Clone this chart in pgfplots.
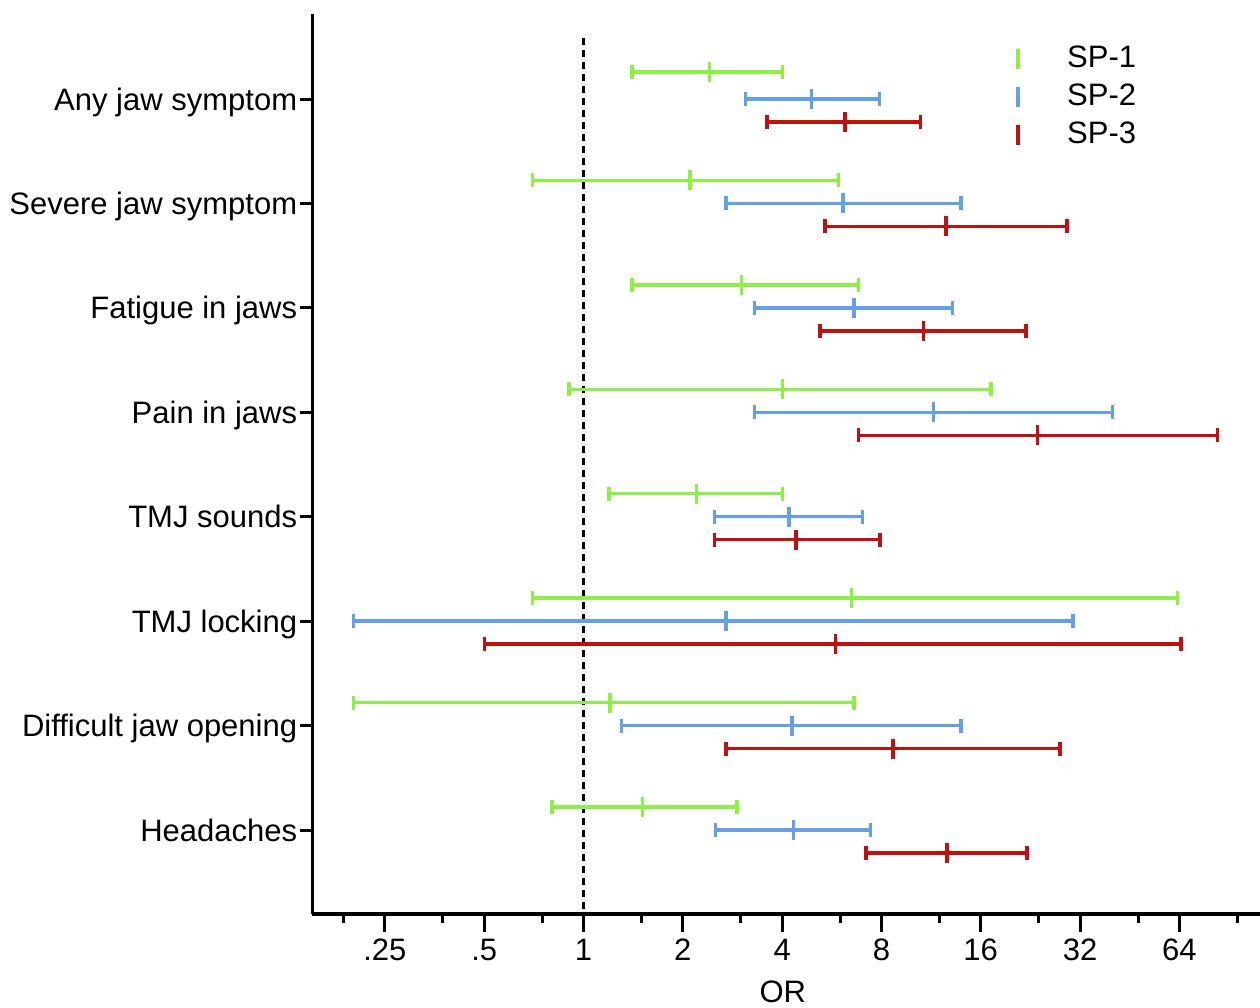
\documentclass[border=0pt]{standalone}
\usepackage{fontspec}
\setmainfont{Liberation Sans}
\usepackage{pgfplots}
\usepackage{pgfplotstable}
\pgfplotsset{compat=1.18}
\definecolor{cA}{RGB}{140,242,66}
\definecolor{cB}{RGB}{100,160,232}
\definecolor{cC}{RGB}{192,16,16}

\pgfplotstableread{
y or lo hi
8.26 2.406 1.403 4.017
7.22 2.103 0.701 5.92
6.22 3.009 1.403 6.81
5.22 4.006 0.904 17.19
4.22 2.204 1.195 4.006
3.22 6.50 0.701 63.3
2.22 1.203 0.2005 6.61
1.22 1.51 0.803 2.92
}\spone
\pgfplotstableread{
y or lo hi
8 4.905 3.103 7.906
7 6.12 2.704 13.95
6 6.61 3.304 13.12
5 11.49 3.30 40.1
4 4.197 2.499 7.02
3 2.704 0.2005 30.5
2 4.287 1.306 13.95
1 4.335 2.51 7.41
}\sptwo
\pgfplotstableread{
y or lo hi
7.78 6.205 3.60 10.53
6.78 12.56 5.40 29.2
5.78 10.72 5.21 21.95
4.78 23.75 6.81 83.7
3.78 4.407 2.499 7.92
2.78 5.80 0.502 64.8
1.78 8.67 2.704 27.8
0.78 12.65 7.18 22.1
}\spthree

\pgfplotsset{
  ci/.style={only marks, line width=1.7pt, mark=|, mark size=5pt, mark options={line width=1.7pt, solid},
    forget plot,
    error bars/.cd, x dir=both, x explicit,
    error bar style={line width=1.7pt, solid},
    error mark options={rotate=90, line width=1.7pt, mark size=3.5pt}},
}

\begin{document}
\begin{tikzpicture}[font=\fontsize{15.5}{18}\selectfont]
% y axis with its own, shorter ticks
\begin{axis}[scale only axis, width=473.75pt, height=450pt,
  xmode=log, xmin=0.1508, xmax=112.4, ymin=0.196, ymax=8.814,
  tick align=outside, tick style={line width=1.5pt, black},
  axis line style={line width=1.6pt, -},
  axis x line=none, axis y line*=left,
  major tick length=6.5pt,
  ytick={1,2,3,4,5,6,7,8},
  yticklabels={Headaches, Difficult jaw opening, TMJ locking, TMJ sounds, Pain in jaws, Fatigue in jaws, Severe jaw symptom, Any jaw symptom},
  yticklabel style={inner xsep=1pt, inner ysep=0pt, text height=11.1pt, text depth=0pt},
]
\addplot[draw=none, forget plot] coordinates {(1,1) (2,2)};
\end{axis}
\begin{axis}[scale only axis, width=473.75pt, height=450pt,
  xmode=log, xmin=0.1508, xmax=112.4, ymin=0.196, ymax=8.814,
  tick align=outside, tick style={line width=1.5pt, black},
  axis line style={line width=1.6pt, -},
  axis x line*=bottom, axis y line*=left,
  xtick={0.25,0.5,1,2,4,8,16,32,64},
  xticklabels={.25,.5,1,2,4,8,16,32,64},
  minor xtick={0.1875,0.375,0.75,1.5,3,6,12,24,48,96},
  ytick=\empty,
  major tick length=9pt, minor tick length=4.5pt,
  /pgf/number format/assume math mode=true,
  xlabel={OR},
  x label style={at={(axis description cs:0.4963,0)}, anchor=base, inner sep=0pt, yshift=-44pt},
  legend style={at={(0.743,0.9711)}, anchor=north west, draw=none, fill=none,
    inner sep=0pt, outer sep=0pt, row sep=0pt,
    nodes={inner sep=2.5pt, text height=11pt, text depth=3pt, anchor=west}},
  legend cell align=left,
]
\addlegendimage{legend image code/.code={\draw[cA,line width=1.7pt](0pt,-5pt)--(0pt,5pt); \path[draw=none] (0pt,0pt) (22pt,0pt);}}
\addlegendentry{SP-1}
\addlegendimage{legend image code/.code={\draw[cB,line width=1.7pt](0pt,-5pt)--(0pt,5pt); \path[draw=none] (0pt,0pt) (22pt,0pt);}}
\addlegendentry{SP-2}
\addlegendimage{legend image code/.code={\draw[cC,line width=1.7pt](0pt,-5pt)--(0pt,5pt); \path[draw=none] (0pt,0pt) (22pt,0pt);}}
\addlegendentry{SP-3}

\addplot[black, line width=1.3pt, dash pattern=on 3.5pt off 2.5pt, forget plot] coordinates {(1,8.584) (1,0.196)};

\addplot[cA, ci] table[x=or, y=y, x error plus expr=\thisrow{hi}-\thisrow{or}, x error minus expr=\thisrow{or}-\thisrow{lo}] {\spone};
\addplot[cB, ci] table[x=or, y=y, x error plus expr=\thisrow{hi}-\thisrow{or}, x error minus expr=\thisrow{or}-\thisrow{lo}] {\sptwo};
\addplot[cC, ci] table[x=or, y=y, x error plus expr=\thisrow{hi}-\thisrow{or}, x error minus expr=\thisrow{or}-\thisrow{lo}] {\spthree};
\end{axis}
\pgfresetboundingbox
\path (-156.25pt,-47pt) rectangle (473.75pt,457pt);
\end{tikzpicture}
\end{document}
